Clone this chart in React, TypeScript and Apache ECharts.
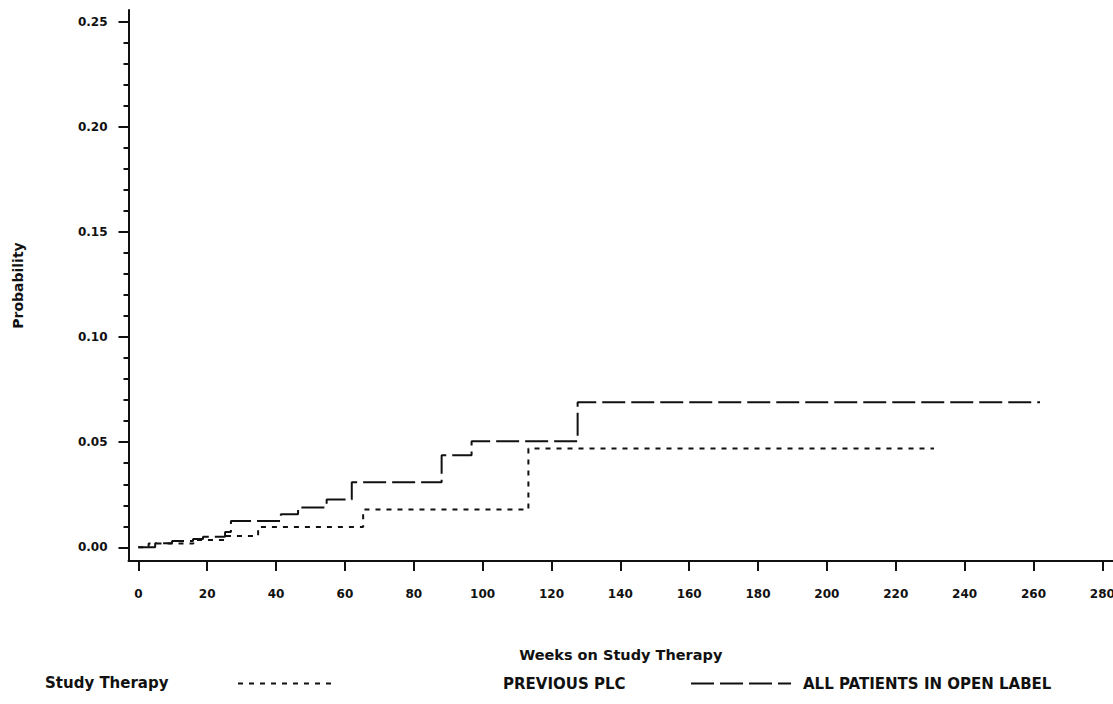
import React, { useEffect, useRef } from "react";
import * as echarts from "echarts";

// Tick values
const xTickValues = [0, 20, 40, 60, 80, 100, 120, 140, 160, 180, 200, 220, 240, 260, 280];
const yMajorTicks = [0, 0.05, 0.1, 0.15, 0.2, 0.25];
const yMinorTicks = [
  0, 0.01, 0.02, 0.03, 0.04, 0.05, 0.06, 0.07, 0.08, 0.09, 0.1, 0.11, 0.12, 0.13,
  0.14, 0.15, 0.16, 0.17, 0.18, 0.19, 0.2, 0.21, 0.22, 0.23, 0.24, 0.25,
];

// PREVIOUS PLC (dotted)
const plcWeeks = [0, 3, 16, 25.2, 34.8, 65.3, 113.3, 231.1];
const plcProb = [0, 0.0018, 0.0035, 0.0054, 0.0097, 0.018, 0.047, 0.047];

// ALL PATIENTS IN OPEN LABEL (dashed)
const allWeeks = [0, 4.9, 9.8, 15.9, 18.8, 25.2, 26.9, 41.4, 46.4, 54.7, 62.0, 88.1, 96.8, 127.6, 261.9];
const allProb = [0, 0.002, 0.003, 0.004, 0.005, 0.0073, 0.0125, 0.0157, 0.019, 0.0227, 0.031, 0.0438, 0.0505, 0.069, 0.069];

const seriesNames = ["PREVIOUS PLC", "ALL PATIENTS IN OPEN LABEL"];
const legendTitle = "Study Therapy";
const xName = "Weeks on Study Therapy";
const yName = "Probability";

const FONT = "DejaVu Sans";
const INK = "#111111";

export default function App() {
  const ref = useRef<HTMLDivElement>(null);

  useEffect(() => {
    if (!ref.current) return;
    const chart = echarts.init(ref.current, undefined, { renderer: "svg" });
    const pair = (xs: number[], ys: number[]) => xs.map((x, i) => [x, ys[i]]);

    const labelStyle = {
      fontFamily: FONT,
      fontWeight: "bold" as const,
      fontSize: 12,
      color: INK,
    };
    const legendText = { ...labelStyle, fontSize: 15 };
    const hiddenSymbol = { color: "rgba(0,0,0,0)", borderColor: "rgba(0,0,0,0)", borderWidth: 0, opacity: 0 };

    chart.setOption({
      animation: false,
      backgroundColor: "#ffffff",
      grid: {
        left: 128.5,
        right: 0,
        top: 10,
        bottom: 143,
        containLabel: false,
        outerBoundsMode: "none",
      },
      xAxis: {
        type: "value",
        min: -2.85,
        max: 283.1,
        name: xName,
        nameLocation: "middle",
        nameGap: 86,
        nameTextStyle: { ...labelStyle, fontSize: 14.5 },
        axisLine: { show: true, onZero: false, lineStyle: { color: INK, width: 2 } },
        axisTick: {
          show: true,
          length: 10,
          customValues: xTickValues,
          lineStyle: { color: INK, width: 2 },
        },
        axisLabel: {
          show: true,
          customValues: xTickValues,
          margin: 27,
          ...labelStyle,
        },
        splitLine: { show: false },
      },
      yAxis: [
        {
          type: "value",
          min: -0.0065,
          max: 0.2556,
          position: "left",
          name: yName,
          nameLocation: "middle",
          nameGap: 104,
          nameRotate: 90,
          nameTextStyle: { ...labelStyle, fontSize: 14 },
          axisLine: { show: true, onZero: false, lineStyle: { color: INK, width: 2 } },
          axisTick: {
            show: true,
            length: 10,
            customValues: yMajorTicks,
            lineStyle: { color: INK, width: 2 },
          },
          axisLabel: {
            show: true,
            customValues: yMajorTicks,
            margin: 21,
            formatter: (v: number) => v.toFixed(2),
            ...labelStyle,
          },
          splitLine: { show: false },
        },
        {
          type: "value",
          min: -0.0065,
          max: 0.2556,
          position: "left",
          axisLine: { show: false, onZero: false },
          axisTick: {
            show: true,
            length: 5,
            customValues: yMinorTicks,
            lineStyle: { color: INK, width: 2 },
          },
          axisLabel: { show: false },
          splitLine: { show: false },
        },
      ],
      legend: [
        {
          data: [seriesNames[0]],
          left: 237,
          top: 676,
          itemWidth: 98,
          itemHeight: 14,
          padding: 0,
          itemStyle: hiddenSymbol,
          textStyle: { ...legendText, padding: [0, 0, 0, 162] },
        },
        {
          data: [seriesNames[1]],
          left: 690,
          top: 676,
          itemWidth: 100,
          itemHeight: 14,
          padding: 0,
          itemStyle: hiddenSymbol,
          textStyle: { ...legendText, padding: [0, 0, 0, 7] },
        },
      ],
      graphic: [
        {
          type: "text",
          left: 45,
          top: 675,
          style: {
            text: legendTitle,
            font: `bold 15px "${FONT}"`,
            fill: INK,
          },
        },
      ],
      series: [
        {
          name: seriesNames[0],
          type: "line",
          step: "end",
          xAxisIndex: 0,
          yAxisIndex: 0,
          symbol: "none",
          showSymbol: false,
          lineStyle: { color: INK, width: 2, type: [5, 6] },
          itemStyle: { color: INK },
          data: pair(plcWeeks, plcProb),
        },
        {
          name: seriesNames[1],
          type: "line",
          step: "end",
          xAxisIndex: 0,
          yAxisIndex: 0,
          symbol: "none",
          showSymbol: false,
          lineStyle: { color: INK, width: 2, type: [23, 6] },
          itemStyle: { color: INK },
          data: pair(allWeeks, allProb),
        },
      ],
    });

    return () => chart.dispose();
  }, []);

  return (
    <div
      ref={ref}
      style={{ position: "fixed", left: 0, top: 0, width: 1113, height: 704 }}
    />
  );
}
